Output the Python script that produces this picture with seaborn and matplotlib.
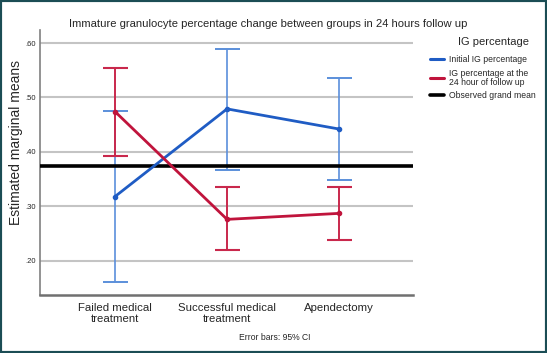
import matplotlib
matplotlib.use("Agg")
import matplotlib.pyplot as plt
from matplotlib.lines import Line2D
from matplotlib.patches import Rectangle
import seaborn as sns
import pandas as pd
import numpy as np

categories = ["Failed medical\ntreatment", "Successful medical\ntreatment", "Apendectomy"]
series_names = ["Initial IG percentage", "IG percentage at the\n24 hour of follow up"]
initial_mean = [0.318, 0.479, 0.442]
initial_low = [0.161, 0.367, 0.349]
initial_high = [0.476, 0.589, 0.536]
follow_mean = [0.474, 0.276, 0.287]
follow_low = [0.392, 0.219, 0.238]
follow_high = [0.555, 0.335, 0.335]
grand_mean = 0.374
yticks = [0.20, 0.30, 0.40, 0.50, 0.60]
ytick_labels = [".20", ".30", ".40", ".50", ".60"]

sns.set_theme(style="white")
plt.rcParams["font.family"] = ["Liberation Sans", "DejaVu Sans"]

fig = plt.figure(figsize=(5.47, 3.53), dpi=100)
ax = fig.add_axes([40/547, 1-295/353, 373/547, 265/353])

blue_line = "#1f5cc4"
blue_err = "#5b8fdb"
red_line = "#c0143c"
red_err = "#c9284c"

for y in yticks:
    ax.axhline(y, color="#c4c4c4", lw=1.5, zorder=0)

df = pd.DataFrame({
    "group": categories * 2,
    "series": [series_names[0]] * 3 + [series_names[1]] * 3,
    "mean": initial_mean + follow_mean,
    "low": initial_low + follow_low,
    "high": initial_high + follow_high,
})

sns.pointplot(data=df, x="group", y="mean", hue="series", order=categories,
              hue_order=series_names, palette=[blue_line, red_line],
              errorbar=None, markers="o", markersize=2.5, linewidth=2.0,
              ax=ax, legend=False, zorder=4)

xs = np.arange(len(categories))
m = np.array(initial_mean)
ax.errorbar(xs, m, yerr=[m - np.array(initial_low), np.array(initial_high) - m],
            fmt="none", ecolor=blue_err, elinewidth=1.2, capsize=9, capthick=1.4, zorder=2)
m2 = np.array(follow_mean)
ax.errorbar(xs, m2, yerr=[m2 - np.array(follow_low), np.array(follow_high) - m2],
            fmt="none", ecolor=red_err, elinewidth=1.4, capsize=9, capthick=1.5, zorder=3)

ax.axhline(grand_mean, color="black", lw=2.6, zorder=3)

ax.set_xlim(-0.67, 2.66)
ax.set_ylim(0.137, 0.624)
ax.set_yticks(yticks)
ax.set_yticklabels(ytick_labels, fontsize=5.5)
ax.set_xticks(xs)
ax.set_xticklabels(categories, fontsize=8.2, linespacing=1.15)
ax.tick_params(axis="x", length=0, pad=5.5)
ax.tick_params(axis="y", length=0, pad=3)
ax.set_xlabel("")
ax.set_ylabel("Estimated marginal means", fontsize=10)
ax.yaxis.set_label_coords((23 - 40) / 373, (295 - 142.5) / 265)

for s in ["top", "right"]:
    ax.spines[s].set_visible(False)
ax.spines["left"].set_color("#808080")
ax.spines["left"].set_linewidth(1.2)
ax.spines["bottom"].set_color("#707070")
ax.spines["bottom"].set_linewidth(1.8)

fig.text(268/547, 1-24/353, "Immature granulocyte percentage change between groups in 24 hours follow up",
         ha="center", va="center", fontsize=8.1)
fig.text(275/547, 1-337/353, "Error bars: 95% CI", ha="center", va="center", fontsize=6.2)
fig.text(493/547, 1-42/353, "IG percentage", ha="center", va="center", fontsize=8)

handles = [Line2D([], [], color=blue_line, lw=2.2),
           Line2D([], [], color=red_line, lw=2.2),
           Line2D([], [], color="black", lw=2.6)]
labels = [series_names[0], series_names[1], "Observed grand mean"]
leg = fig.legend(handles, labels, loc="upper left", bbox_to_anchor=(430/547, 1-55/353),
                 frameon=False, fontsize=6.2,
                 handlelength=1.6, handletextpad=0.55, labelspacing=0.55, borderaxespad=0,
                 borderpad=0)
for t in leg.get_texts():
    t.set_linespacing(1.0)

fig.patches.append(Rectangle((0, 0), 1, 1, transform=fig.transFigure, fill=False,
                             edgecolor="#1b4d55", lw=3, zorder=10))

fig.savefig("out.png", dpi=100)
